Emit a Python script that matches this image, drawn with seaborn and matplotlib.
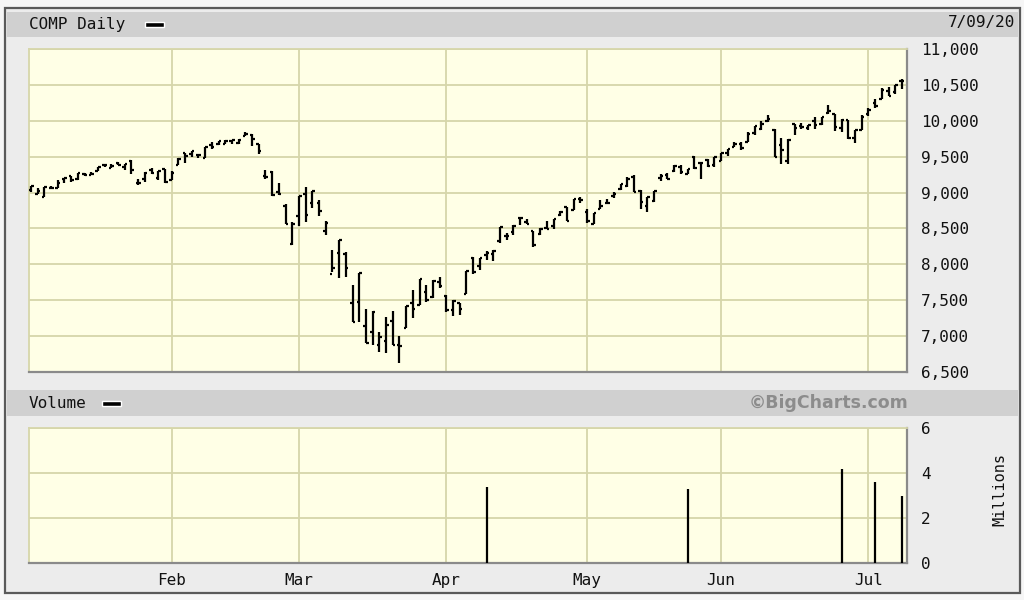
import pandas as pd
import numpy as np
import matplotlib
matplotlib.use('Agg')
import matplotlib.pyplot as plt
import seaborn as sns
from matplotlib.patches import Rectangle

# --- DATA: COMP daily bars, Jan 2 - Jul 9 2020 ---
holidays = ['2020-01-20', '2020-02-17', '2020-04-10', '2020-05-25', '2020-07-03']
days = pd.bdate_range('2020-01-02', '2020-07-09', freq='C', holidays=holidays)

opens = [
    9039, 8976, 8943, 9069, 9068, 9187, 9232, 9193, 9262, 9248, 9306, 9390, 9348, 9414, 9363, 9434, 9140, 9183, 9310, 9198, 9326,
    9175, 9382, 9552, 9531, 9517, 9484, 9666, 9673, 9682, 9723, 9696, 9788, 9800, 9670, 9226, 9292, 9010, 8806, 8284,
    8667, 8986, 8851, 8848, 8459, 7867, 8155, 8145, 7456, 7477, 7145, 7053, 6877, 6926, 7210, 6879, 7108, 7465, 7430, 7610, 7547, 7754,
    7560, 7366, 7459, 7589, 8088, 7975, 8136, 8149, 8320, 8394, 8448, 8645, 8594, 8468, 8416, 8504, 8535, 8686, 8804, 8753, 8912,
    8735, 8561, 8777, 8856, 8950, 9051, 9089, 9222, 9015, 8813, 8880, 9205, 9239, 9294, 9363, 9264, 9501, 9408, 9454, 9382,
    9439, 9553, 9641, 9670, 9704, 9830, 9881, 9992, 9868, 9662, 9443, 9950, 9928, 9896, 10001, 9960, 10112, 10090, 9899, 10006, 9765, 9877,
    10093, 10252, 10310, 10411, 10405, 10560]
highs = [
    9093, 9065, 9072, 9092, 9168, 9204, 9236, 9275, 9275, 9292, 9357, 9390, 9392, 9431, 9404, 9451, 9188, 9281, 9349, 9303, 9331,
    9305, 9478, 9552, 9573, 9540, 9629, 9704, 9725, 9738, 9732, 9749, 9838, 9816, 9673, 9317, 9300, 9140, 8847, 8590,
    8953, 9071, 9018, 8897, 8597, 8200, 8345, 8170, 7715, 7875, 7380, 7351, 7057, 7271, 7348, 6995, 7426, 7637, 7800, 7710, 7775, 7829,
    7573, 7501, 7460, 7913, 8106, 8091, 8184, 8199, 8516, 8440, 8553, 8661, 8629, 8470, 8507, 8608, 8638, 8742, 8805, 8917, 8943,
    8776, 8711, 8902, 8906, 9004, 9124, 9215, 9248, 9029, 8945, 9015, 9252, 9268, 9378, 9386, 9330, 9505, 9412, 9472, 9493,
    9553, 9609, 9698, 9710, 9845, 9925, 10002, 10087, 9888, 9755, 9743, 9950, 9963, 9945, 10052, 10056, 10221, 10098, 10018, 10006, 9874, 10085,
    10184, 10310, 10450, 10468, 10493, 10585]
lows = [
    9010, 8976, 8943, 9043, 9059, 9136, 9153, 9181, 9232, 9241, 9298, 9360, 9347, 9382, 9318, 9261, 9111, 9149, 9263, 9179, 9131,
    9170, 9380, 9413, 9498, 9483, 9480, 9610, 9664, 9670, 9680, 9682, 9786, 9642, 9532, 9192, 8955, 8964, 8565, 8264,
    8538, 8590, 8791, 8680, 8408, 7900, 7803, 7824, 7194, 7190, 6905, 6880, 6773, 6767, 6880, 6631, 7108, 7256, 7428, 7481, 7525, 7667,
    7337, 7286, 7292, 7589, 7871, 7924, 8060, 8045, 8299, 8334, 8409, 8545, 8558, 8242, 8409, 8487, 8494, 8667, 8599, 8753, 8852,
    8580, 8557, 8777, 8844, 8931, 9030, 9081, 9002, 8777, 8727, 8869, 9164, 9182, 9290, 9265, 9253, 9333, 9189, 9358, 9351,
    9439, 9509, 9638, 9597, 9704, 9806, 9876, 9982, 9493, 9403, 9403, 9804, 9883, 9874, 9880, 9937, 10100, 9862, 9845, 9753, 9693, 9874,
    10070, 10179, 10301, 10342, 10376, 10439]
closes = [
    9092, 9020, 9071, 9069, 9129, 9203, 9179, 9274, 9251, 9259, 9357, 9389, 9370, 9383, 9403, 9315, 9139, 9270, 9275, 9299, 9151,
    9273, 9467, 9509, 9572, 9521, 9628, 9638, 9725, 9712, 9731, 9733, 9817, 9751, 9577, 9221, 8966, 8980, 8566, 8567,
    8952, 8684, 9018, 8738, 8576, 7950, 8344, 7953, 7201, 7875, 6905, 7335, 6989, 7150, 6880, 6861, 7418, 7384, 7798, 7502, 7774, 7700,
    7360, 7487, 7373, 7913, 7887, 8091, 8153, 8192, 8516, 8393, 8533, 8650, 8561, 8263, 8495, 8495, 8634, 8730, 8607, 8914, 8890,
    8605, 8711, 8810, 8854, 8980, 9121, 9192, 9002, 8863, 8943, 9015, 9235, 9185, 9375, 9284, 9325, 9340, 9412, 9369, 9490,
    9552, 9609, 9683, 9616, 9814, 9924, 9953, 10020, 9493, 9589, 9726, 9895, 9910, 9943, 9946, 10056, 10131, 9909, 10017, 9757, 9874, 10058,
    10154, 10208, 10433, 10344, 10492, 10548]

vol_dates = ['2020-04-09', '2020-05-22', '2020-06-25', '2020-07-02', '2020-07-09']
vol_millions = [3.4, 3.3, 4.2, 3.6, 3.0]

month_labels = ['Feb', 'Mar', 'Apr', 'May', 'Jun', 'Jul']
price_ticks = list(range(6500, 11001, 500))
vol_ticks = [0, 2, 4, 6]

df = pd.DataFrame({'date': days, 'open': opens, 'high': highs, 'low': lows, 'close': closes})
df['i'] = np.arange(len(df))
vol = pd.DataFrame({'date': pd.to_datetime(vol_dates), 'vol': vol_millions})
vol['i'] = vol['date'].map(dict(zip(df['date'], df['i'])))
month_pos = [df.loc[df['date'].dt.month == m, 'i'].iloc[0] for m in range(2, 8)]

# --- STYLE ---
sns.set_theme(style='white')
plt.rcParams['font.family'] = ['DejaVu Sans Mono']
plot_bg = '#ffffe6'
grid_c = '#d6d6aa'
panel_bg = '#ececec'
head_bg = '#d0d0d0'

W, H = 1024, 600
def fx(px):
    return px / W
def fy(py):
    return 1 - py / H

fig = plt.figure(figsize=(10.24, 6), dpi=100, facecolor='#f6f6f6')
fig.add_artist(Rectangle((fx(5), fy(593)), fx(1020 - 5), (593 - 8) / H, transform=fig.transFigure,
                         fc=panel_bg, ec='#5a5a5a', lw=1.6, zorder=0))
fig.add_artist(Rectangle((fx(7), fy(37)), fx(1018 - 7), 25 / H, transform=fig.transFigure,
                         fc=head_bg, ec='none', zorder=0.5))
fig.add_artist(Rectangle((fx(7), fy(416)), fx(1018 - 7), 26 / H, transform=fig.transFigure,
                         fc=head_bg, ec='none', zorder=0.5))

ax1 = fig.add_axes([fx(29.3), fy(372), fx(878), 323 / H])
ax2 = fig.add_axes([fx(29.3), fy(563), fx(878), 135 / H])

# price bars (OHLC): open tick left, close tick right
ax1.vlines(df['i'], df['low'], df['high'], color='black', lw=1.6, zorder=3)
ax1.hlines(df['open'], df['i'] - 0.38, df['i'], color='black', lw=1.6, zorder=3)
ax1.hlines(df['close'], df['i'], df['i'] + 0.38, color='black', lw=1.6, zorder=3)
ax1.set_ylim(6500, 11000)
ax1.set_yticks(price_ticks)
ax1.set_yticklabels([f'{t:,}' for t in price_ticks])

# volume spikes
ax2.vlines(vol['i'], 0, vol['vol'], color='black', lw=1.6, zorder=3)
ax2.set_ylim(0, 6)
ax2.set_yticks(vol_ticks)

for ax in (ax1, ax2):
    ax.set_facecolor(plot_bg)
    ax.set_xlim(-0.25, 130.8)
    ax.set_xticks(month_pos)
    ax.grid(True, color=grid_c, lw=1.3)
    ax.set_axisbelow(True)
    ax.yaxis.tick_right()
    ax.tick_params(axis='both', length=0, labelsize=11.5, colors='#111111')
    ax.tick_params(axis='y', pad=10)
    for side in ('top', 'left'):
        ax.spines[side].set_color(grid_c)
        ax.spines[side].set_linewidth(1.3)
    for side in ('bottom', 'right'):
        ax.spines[side].set_color('#8a8a8a')
        ax.spines[side].set_linewidth(1.6)
    ax.set_xlabel('')
    ax.set_ylabel('')

ax1.set_xticklabels([])
ax2.set_xticklabels(month_labels)
ax2.tick_params(axis='x', pad=7)

# headers
fig.text(fx(29), fy(25), 'COMP Daily', ha='left', va='center', fontsize=11.5, color='#111111')
fig.add_artist(Rectangle((fx(145), fy(27)), fx(19), 5 / H, transform=fig.transFigure,
                         fc='black', ec='white', lw=1))
fig.text(fx(1015), fy(22), '7/09/20', ha='right', va='center', fontsize=11.5, color='#111111')
fig.text(fx(29), fy(404), 'Volume', ha='left', va='center', fontsize=11.5, color='#111111')
fig.add_artist(Rectangle((fx(102), fy(406)), fx(19), 5 / H, transform=fig.transFigure,
                         fc='black', ec='white', lw=1))
fig.text(fx(908), fy(403), '\u00a9BigCharts.com', ha='right', va='center', fontsize=12.5,
         fontweight='bold', color='#8c8c8c', family='DejaVu Sans')
fig.text(fx(1000), fy(490), 'Millions', ha='center', va='center', rotation=90, fontsize=11,
         color='#111111')

fig.savefig('out.png', dpi=100, facecolor=fig.get_facecolor())
